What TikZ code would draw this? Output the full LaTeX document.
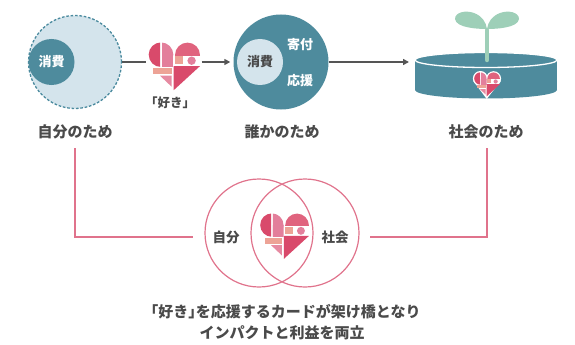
\documentclass[tikz,border=0pt]{standalone}
\usepackage{fontspec}
\setmainfont{Noto Sans CJK JP}
\usetikzlibrary{arrows.meta}
\definecolor{teal}{HTML}{4E8B9D}
\definecolor{paleblue}{HTML}{D4E4EC}
\definecolor{dashcol}{HTML}{4A8A9E}
\definecolor{txt}{HTML}{4A4A4A}
\definecolor{conn}{HTML}{555555}
\definecolor{pinkline}{HTML}{E0738C}
\definecolor{hdark}{HTML}{D94A6B}
\definecolor{hmid}{HTML}{E0637E}
\definecolor{hlight}{HTML}{E37F9B}
\definecolor{salmon}{HTML}{EDA396}
\definecolor{htri}{HTML}{E68AA1}
\definecolor{sprout}{HTML}{9ECFB8}
\tikzset{
  lbl/.style={text=txt, font=\fontsize{15}{21}\selectfont\bfseries, inner sep=0pt},
  vlbl/.style={text=txt, font=\fontsize{13.5}{15}\selectfont\bfseries, inner sep=0pt},
  inlbl/.style={font=\fontsize{13}{14}\selectfont\bfseries, inner sep=0pt},
  link/.style={draw=conn, line width=1.5pt},
  arrowlink/.style={link, -{Triangle[length=6pt,width=6pt]}},
  pinklink/.style={draw=pinkline, line width=1.5pt},
  venn/.style={circle, draw=pinkline, line width=1.2pt, minimum size=108pt, inner sep=0pt},
  % the mosaic heart, centred on its origin, about 52 x 48
  likeheart/.pic={
    \begin{scope}
      \clip (-27,-26) rectangle (-14.2,2);
      \fill[hdark] (-13.3,-12) circle (12.3);
    \end{scope}
    \begin{scope}
      \clip (-12.3,-26) rectangle (-1,2);
      \fill[hlight] (-13.3,-12) circle (12.3);
      \fill[hlight] (-13.3,-12) rectangle (-1,0.3);
    \end{scope}
    \begin{scope}
      \clip (0,-26) rectangle (27,-11.6);
      \fill[hmid] (13.2,-11.6) circle (12.5);
    \end{scope}
    \fill[salmon] (0.7,-10.3) rectangle (8.8,-2.6);
    \fill[hlight] (17.3,-6) circle (4.2);
    \fill[salmon] (-21,1.7) rectangle (-2.7,7.7);
    \fill[hdark] (-0.6,-0.6) -- (25.7,-0.6) -- (-0.6,23.5) -- cycle;
    \fill[htri] (-14.3,9) -- (-2.7,9) -- (-2.7,20) -- cycle;
  },
  % plain white heart used as a border behind the small heart
  heartback/.pic={
    \fill[white] (-13.3,-12) circle (15);
    \fill[white] (13.2,-11.6) circle (15);
    \fill[white] (-28,-8) -- (28.2,-8) -- (-0.6,29) -- cycle;
  }
}
\begin{document}
\begin{tikzpicture}[x=1pt,y=-1pt]
\useasboundingbox (0,0) rectangle (575,345);

% --- for oneself ---
\node[circle, fill=paleblue, draw=dashcol, dashed, dash pattern=on 2.6pt off 1.8pt,
      line width=1.3pt, minimum size=93pt, inner sep=0pt] (self) at (75,62) {};
\node[circle, fill=teal, text=white, inlbl, minimum size=46pt] (selfuse) at (51.5,62) {消費};
\node[lbl] (selflabel) at (75,132) {自分のため};

% --- the "like" heart ---
\node[minimum width=55pt, minimum height=48pt, inner sep=0pt] (heart1) at (174,62) {};
\pic at (174.3,66.7) {likeheart};
\node[text=txt, font=\fontsize{12.5}{14}\selectfont\bfseries, inner sep=0pt] (likelabel) at (170,103) {「好き」};

% --- for someone else ---
\node[circle, fill=teal, minimum size=95pt, inner sep=0pt] (other) at (281,62) {};
\node[circle, fill=paleblue, text=txt, inlbl, minimum size=46pt] (otheruse) at (260,62) {消費};
\node[inlbl, text=white] (donate) at (300,45) {寄付};
\node[inlbl, text=white] (support) at (300,81) {応援};
\node[lbl] (otherlabel) at (282,132) {誰かのため};

% --- for society: pot with sprout ---
\fill[teal] (415,60) rectangle (557,90);
\fill[teal] (486,90) ellipse (71 and 8.5);
\fill[teal, draw=white, line width=1.3pt] (486,60) ellipse (71 and 7.5);
\draw[sprout, line width=4.5pt, line cap=round] (487,60) -- (487,30);
\fill[sprout] (487,29) .. controls (478,29) and (456,28) .. (455,19)
  .. controls (455,12) and (466,10) .. (474,13) .. controls (482,16) and (486,22) .. (487,29) -- cycle;
\fill[sprout] (487,29) .. controls (496,29) and (518,28) .. (519,19)
  .. controls (519,12) and (508,10) .. (500,13) .. controls (492,16) and (488,22) .. (487,29) -- cycle;
\pic[scale=0.5] at (487,84.5) {heartback};
\pic[scale=0.5] at (487,84.5) {likeheart};
\coordinate (pot) at (409,62);
\node[lbl] (soclabel) at (486,132) {社会のため};

% --- flow connectors ---
\draw[link] (self.east) -- (heart1.west);
\draw[arrowlink] (heart1.east) -- ([xshift=-3pt]other.west);
\draw[arrowlink] (other.east) -- (pot);

% --- overlap of self and society ---
\node[venn] (vself) at (259,233) {};
\node[venn] (vsoc) at (305,233) {};
\node[minimum width=50pt, minimum height=48pt, inner sep=0pt] (heart2) at (284,236) {};
\pic[scale=0.95] at (284.5,236.5) {likeheart};
\node[vlbl] (vselflabel) at (226,237) {自分};
\node[vlbl] (vsoclabel) at (335,237) {社会};

\coordinate (selftail) at (75,148);
\coordinate (selfend) at (193,237);
\coordinate (soctail) at (487,148);
\coordinate (socend) at (370,237);
\draw[pinklink] (selftail) |- (selfend);
\draw[pinklink] (soctail) |- (socend);

% --- caption ---
\node[lbl, align=center] (caption) at (282,322) {「好き」\kern-0.5emを応援するカードが架け橋となり\\インパクトと利益を両立};
\end{tikzpicture}
\end{document}
